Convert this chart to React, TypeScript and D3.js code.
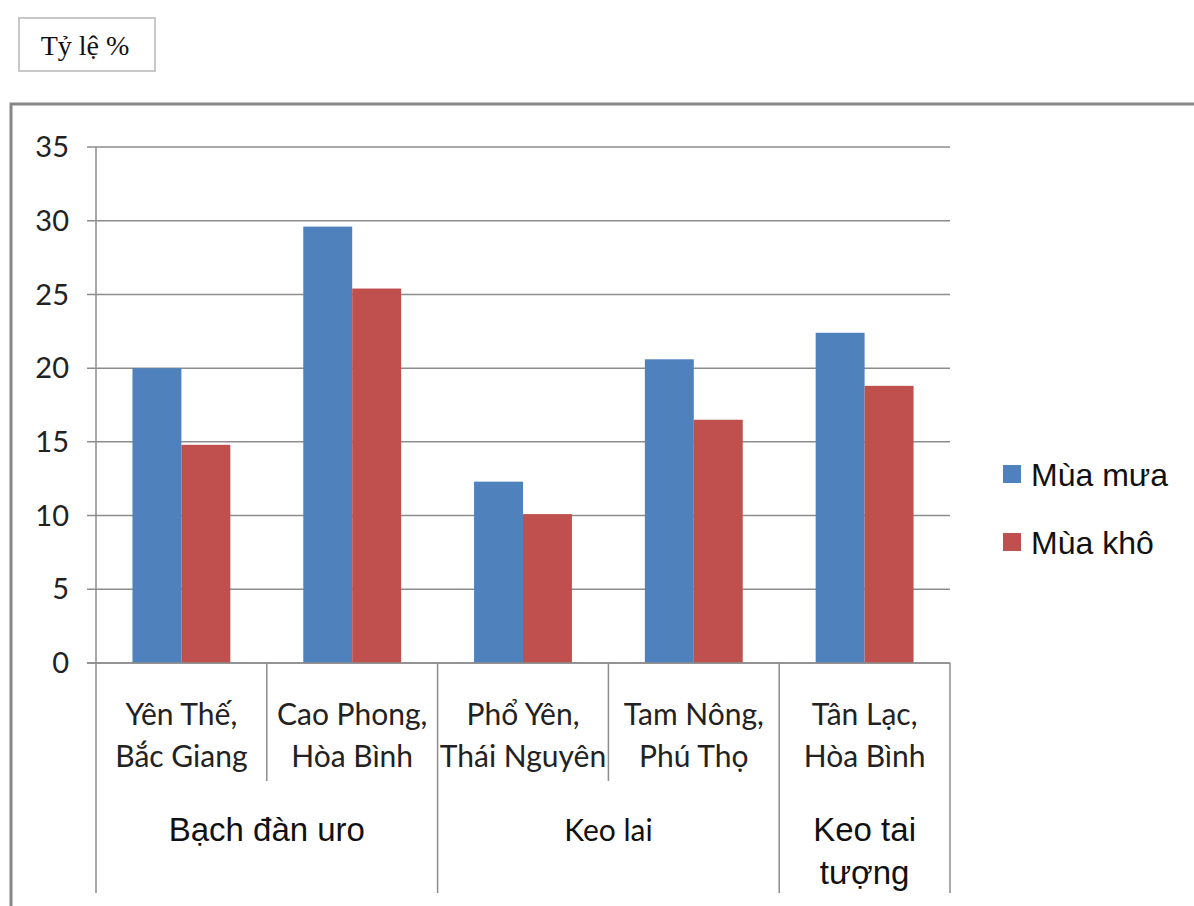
import * as d3 from "d3"

const categories = ["Yên Thế,|Bắc Giang", "Cao Phong,|Hòa Bình", "Phổ Yên,|Thái Nguyên", "Tam Nông,|Phú Thọ", "Tân Lạc,|Hòa Bình"]
const seriesNames = ["Mùa mưa", "Mùa khô"]
const muaMua = [20.0, 29.6, 12.3, 20.6, 22.4]
const muaKho = [14.8, 25.4, 10.1, 16.5, 18.8]
const groups = [
  { name: "Bạch đàn uro", from: 0, to: 1 },
  { name: "Keo lai", from: 2, to: 3 },
  { name: "Keo tai|tượng", from: 4, to: 4 },
]
const yTicks = [0, 5, 10, 15, 20, 25, 30, 35]
const colors = ["#4F81BD", "#C0504D"]

const W = 1194
const H = 906
const left = 96
const right = 950
const top = 147
const bottom = 663

export default function App() {
  const y = d3.scaleLinear([0, 35], [bottom, top])
  const x = d3.scaleBand(categories, [left, right])
  const xs = d3.scaleBand(seriesNames, [0, x.bandwidth()]).paddingInner(0).paddingOuter(0.745)
  const values = [muaMua, muaKho]
  const calibri = "Lato, 'Open Sans', sans-serif"
  const arial = "'Liberation Sans', Arial, sans-serif"

  return (
    <svg width={W} height={H} style={{ position: "absolute", left: 0, top: 0, display: "block", background: "#fff" }}>
      {/* caption box */}
      <rect x={19} y={18} width={136} height={53} fill="#fff" stroke="#c8c8c8" strokeWidth={2} />
      <text x={85} y={55} textAnchor="middle" fontFamily="'Liberation Serif', 'Times New Roman', serif" fontSize={28} fill="#111">Tỷ lệ %</text>

      {/* chart frame */}
      <rect x={11} y={104} width={W + 20} height={H + 20} fill="none" stroke="#878787" strokeWidth={3} />

      {/* gridlines and y labels */}
      {yTicks.map(t => (
        <g key={t}>
          <line x1={87} x2={right} y1={y(t)} y2={y(t)} stroke="#8c8c8c" strokeWidth={1.5} />
          <text x={69} y={y(t)} dy="0.35em" textAnchor="end" fontFamily={calibri} fontSize={29} fill="#222">{t}</text>
        </g>
      ))}
      <line x1={left} x2={left} y1={top} y2={bottom} stroke="#8c8c8c" strokeWidth={1.5} />

      {/* bars */}
      {categories.map((c, i) => (
        <g key={c} transform={`translate(${x(c)},0)`}>
          {seriesNames.map((s, k) => (
            <rect key={s} x={xs(s)} width={xs.bandwidth()} y={y(values[k][i])} height={y(0) - y(values[k][i])} fill={colors[k]} />
          ))}
        </g>
      ))}
      <line x1={87} x2={right} y1={y(0)} y2={y(0)} stroke="#8c8c8c" strokeWidth={1.5} />

      {/* category separators */}
      {categories.map((c, i) => {
        const xp = x(c)!
        const isGroupStart = groups.some(g => g.from === i)
        return <line key={c} x1={xp} x2={xp} y1={bottom} y2={isGroupStart ? 893 : 781} stroke="#8c8c8c" strokeWidth={1.5} />
      })}
      <line x1={right} x2={right} y1={bottom} y2={893} stroke="#8c8c8c" strokeWidth={1.5} />

      {/* category labels */}
      {categories.map(c => {
        const cx = x(c)! + x.bandwidth() / 2
        return c.split("|").map((ln, j) => (
          <text key={c + j} x={cx} y={725 + j * 42} textAnchor="middle" fontFamily={calibri} fontSize={30} fill="#222">{ln}</text>
        ))
      })}

      {/* group labels */}
      {groups.map(g => {
        const gx = (x(categories[g.from])! + x(categories[g.to])! + x.bandwidth()) / 2
        const small = g.name === "Keo lai"
        return g.name.split("|").map((ln, j) => (
          <text key={g.name + j} x={gx} y={841 + j * 43} textAnchor="middle" fontFamily={small ? calibri : arial} fontSize={small ? 30 : 33} fill="#111">{ln}</text>
        ))
      })}

      {/* legend */}
      {seriesNames.map((s, k) => (
        <g key={s} transform={`translate(1003,${465 + k * 68})`}>
          <rect width={18} height={18} fill={colors[k]} />
          <text x={28} y={9} dy="0.36em" fontFamily={arial} fontSize={32} fill="#111">{s}</text>
        </g>
      ))}
    </svg>
  )
}
